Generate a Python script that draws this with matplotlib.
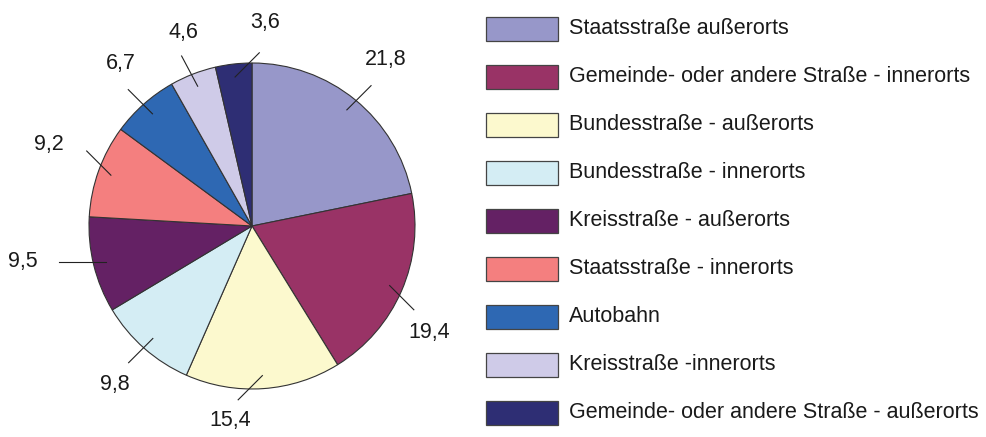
import numpy as np
import matplotlib
matplotlib.use("Agg")
import matplotlib.pyplot as plt
from matplotlib.patches import Rectangle

plt.rcParams["font.family"] = ["Liberation Sans", "DejaVu Sans"]

categories = [
    "Staatsstraße außerorts",
    "Gemeinde- oder andere Straße - innerorts",
    "Bundesstraße - außerorts",
    "Bundesstraße - innerorts",
    "Kreisstraße - außerorts",
    "Staatsstraße - innerorts",
    "Autobahn",
    "Kreisstraße -innerorts",
    "Gemeinde- oder andere Straße - außerorts",
]
values = [21.8, 19.4, 15.4, 9.8, 9.5, 9.2, 6.7, 4.6, 3.6]
value_labels = ["21,8", "19,4", "15,4", "9,8", "9,5", "9,2", "6,7", "4,6", "3,6"]
colors = ["#9797c9", "#993366", "#fcf9ce", "#d4edf4", "#642164",
          "#f47f7f", "#2e68b3", "#cfcbe8", "#2e2e74"]

# leader line layout: direction (deg), length (radius units), text offset (px)
leader_dir = [45, -45, -135, -135, 180, 135, 135, 118, 45]
leader_len = [0.21, 0.21, 0.21, 0.21, 0.29, 0.21, 0.21, 0.21, 0.21]
text_off = [(15, 26), (15, -23), (-8, -21), (-14, -22), (-36, 0),
            (-38, 6), (-7, 26), (2, 24), (6, 30)]

W, H = 987, 437
R_PX = 163
CX, CY = 252, 226

fig = plt.figure(figsize=(W / 100, H / 100), dpi=100)

# pie axes: left part of the figure, 1 data unit = R_PX pixels
ax = fig.add_axes([0, 0, 480 / W, 1])
ax.pie(values, colors=colors, startangle=90, counterclock=False, radius=1,
       wedgeprops=dict(edgecolor="#333333", linewidth=0.8))
ax.set_xlim(-CX / R_PX, (480 - CX) / R_PX)
ax.set_ylim(-(H - CY) / R_PX, CY / R_PX)
ax.set_aspect("auto")
ax.axis("off")

total = sum(values)
cum = 0.0
for v, lab, d, ln, off in zip(values, value_labels, leader_dir, leader_len, text_off):
    mid = np.deg2rad(90 - 360 * (cum + v / 2) / total)
    cum += v
    x0, y0 = 0.92 * np.cos(mid), 0.92 * np.sin(mid)
    x1 = x0 + ln * np.cos(np.deg2rad(d))
    y1 = y0 + ln * np.sin(np.deg2rad(d))
    ax.plot([x0, x1], [y0, y1], color="#222222", lw=0.8, clip_on=False)
    ax.annotate(lab, (x1, y1), xytext=off, textcoords="offset pixels",
                ha="center", va="center", fontsize=15.5, color="#1a1a1a",
                annotation_clip=False)

# legend drawn in pixel coordinates
lg = fig.add_axes([0, 0, 1, 1])
lg.set_xlim(0, W)
lg.set_ylim(H, 0)
lg.axis("off")
for i, (cat, col) in enumerate(zip(categories, colors)):
    yc = 29 + 48 * i
    lg.add_patch(Rectangle((486, yc - 12), 72, 24, facecolor=col,
                           edgecolor="#444444", linewidth=0.9))
    lg.text(569, yc, cat, ha="left", va="center", fontsize=15.5, color="#1a1a1a")

fig.savefig("out.png", dpi=100)
